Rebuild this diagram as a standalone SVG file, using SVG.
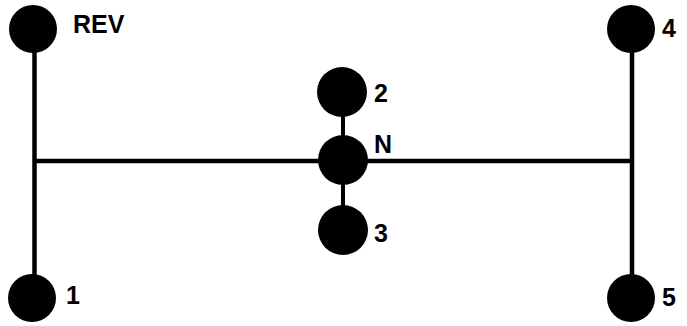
<svg xmlns="http://www.w3.org/2000/svg" width="687" height="326" viewBox="0 0 687 326">
<style>
.dot{fill:#000}
.ln{stroke:#000;stroke-width:4.5;fill:none}
.ln2{stroke:#000;stroke-width:4;fill:none}
.lb{font-family:"Liberation Sans",Arial,sans-serif;font-weight:bold;font-size:25px;fill:#000}
</style>
<rect width="687" height="326" fill="#fff"/>
<g id="connectors">
<line class="ln" x1="34.5" y1="29" x2="34.5" y2="298"/>
<line class="ln" x1="632" y1="29" x2="632" y2="298"/>
<line class="ln" x1="34.5" y1="161" x2="632" y2="161"/>
<line class="ln2" x1="343" y1="92" x2="343" y2="230"/>
</g>
<g id="rev"><circle class="dot" cx="33" cy="29" r="24"/><text class="lb" x="73" y="33">REV</text></g>
<g id="g1"><circle class="dot" cx="32" cy="298" r="24"/><text class="lb" x="66" y="304">1</text></g>
<g id="g2"><circle class="dot" cx="342" cy="92" r="25"/><text class="lb" x="374" y="102">2</text></g>
<g id="gN"><circle class="dot" cx="343" cy="160" r="25"/><text class="lb" x="374" y="153">N</text></g>
<g id="g3"><circle class="dot" cx="343" cy="230" r="25"/><text class="lb" x="374" y="242">3</text></g>
<g id="g4"><circle class="dot" cx="631" cy="29" r="24"/><text class="lb" x="662" y="37">4</text></g>
<g id="g5"><circle class="dot" cx="631" cy="298" r="24"/><text class="lb" x="662" y="306">5</text></g>
</svg>
